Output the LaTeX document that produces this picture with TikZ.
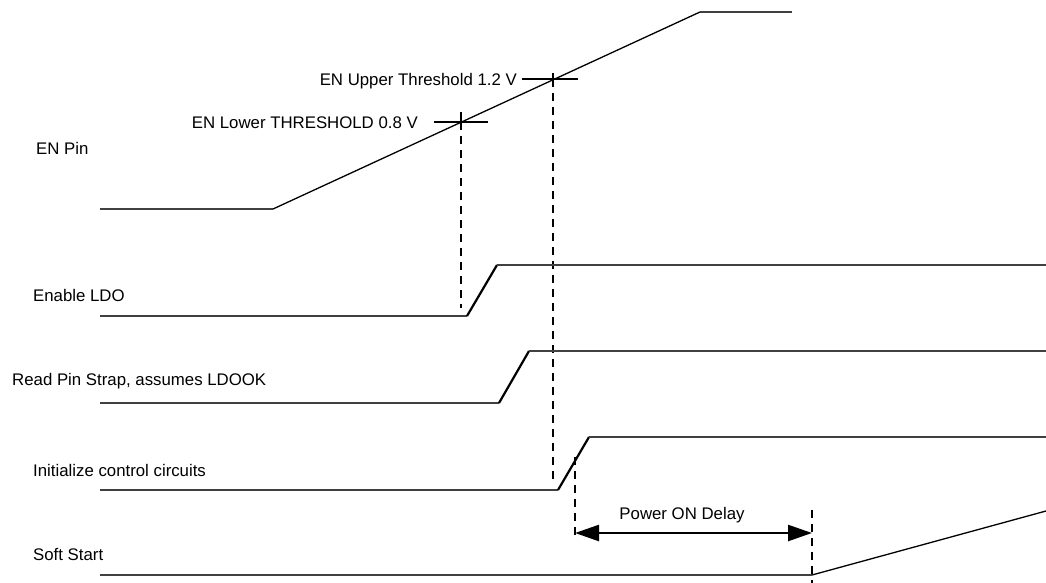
\documentclass[tikz,border=0pt]{standalone}
\usepackage{fontspec}
\setmainfont{Liberation Sans}
\usetikzlibrary{arrows.meta}

\tikzset{
  lbl/.style={anchor=base west,inner sep=0pt},
  rlbl/.style={anchor=base east,inner sep=0pt},
  level/.style={line width=1.4bp,black!75},
  edge/.style={line width=2.2bp,black},
  marker/.style={line width=1.2bp,dash pattern=on 8bp off 6bp},
  tick/.style={line width=1.3bp}
}

\begin{document}
\begin{tikzpicture}[font=\fontsize{16.8bp}{19bp}\selectfont]
\useasboundingbox (0bp,0bp) rectangle (1046bp,-583bp);

% signal names
\node (ENlbl) at (36bp,-154bp)[lbl] {EN Pin};
\node (LDOlbl) at (33bp,-301bp)[lbl] {Enable LDO};
\node (STRAPlbl) at (12bp,-385bp)[lbl] {Read Pin Strap, assumes LDOOK};
\node (INITlbl) at (33bp,-476bp)[lbl] {Initialize control circuits};
\node (SSlbl) at (33bp,-560bp)[lbl] {Soft Start};

% EN pin ramp
\coordinate (EN0) at (100bp,-209bp);
\coordinate (EN1) at (273bp,-209bp);
\coordinate (EN2) at (700bp,-12bp);
\coordinate (EN3) at (792bp,-12bp);
\draw [level] (EN0) -- (EN1);
\draw [line width=1.3bp] (EN1) -- (EN2);
\draw [level] (EN2) -- (EN3);

% thresholds
\coordinate (LOW) at (461bp,-122bp);
\coordinate (UP) at (553bp,-79bp);
\node (LOWlbl) at (418bp,-128bp)[rlbl] {EN Lower THRESHOLD 0.8 V};
\node (UPlbl) at (517bp,-85bp)[rlbl] {EN Upper Threshold 1.2 V};
\draw [tick] (434bp,-122bp) -- (488bp,-122bp);
\draw [tick] (461bp,-112bp) -- (LOW);
\draw [tick] (522bp,-79bp) -- (578bp,-79bp);
\draw [tick] (553bp,-73bp) -- (UP);
\draw [marker] (LOW) -- (461bp,-308bp);
\draw [marker] (UP) -- (553bp,-481bp);

% Enable LDO
\coordinate (LDO0) at (100bp,-316bp);
\coordinate (LDO1) at (467bp,-316bp);
\coordinate (LDO2) at (497bp,-265bp);
\coordinate (LDO3) at (1046bp,-265bp);
\draw [level] (LDO0) -- (LDO1);
\draw [edge] (LDO1) -- (LDO2);
\draw [level] (LDO2) -- (LDO3);

% Read pin strap
\coordinate (STR0) at (100bp,-403bp);
\coordinate (STR1) at (499bp,-403bp);
\coordinate (STR2) at (529bp,-351bp);
\coordinate (STR3) at (1046bp,-351bp);
\draw [level] (STR0) -- (STR1);
\draw [edge] (STR1) -- (STR2);
\draw [level] (STR2) -- (STR3);

% Initialize control circuits
\coordinate (INI0) at (100bp,-490bp);
\coordinate (INI1) at (558bp,-490bp);
\coordinate (INI2) at (589bp,-437bp);
\coordinate (INI3) at (1046bp,-437bp);
\draw [level] (INI0) -- (INI1);
\draw [edge] (INI1) -- (INI2);
\draw [level] (INI2) -- (INI3);

% Soft start
\coordinate (SS0) at (100bp,-575bp);
\coordinate (SS1) at (812bp,-575bp);
\coordinate (SS2) at (1046bp,-511bp);
\draw [level] (SS0) -- (SS1);
\draw [line width=1.3bp] (SS1) -- (SS2);

% power on delay
\coordinate (DLa) at (575bp,-533bp);
\coordinate (DLb) at (812bp,-533bp);
\draw [marker] (575bp,-457bp) -- (575bp,-540bp);
\draw [marker] (812bp,-510bp) -- (812bp,-583bp);
\draw [{Triangle[length=24bp,width=16bp]}-{Triangle[length=24bp,width=16bp]},line width=2.4bp] (DLa) -- (DLb);
\node (DLlbl) at (682bp,-519bp)[anchor=base,inner sep=0pt] {Power ON Delay};
\end{tikzpicture}
\end{document}
